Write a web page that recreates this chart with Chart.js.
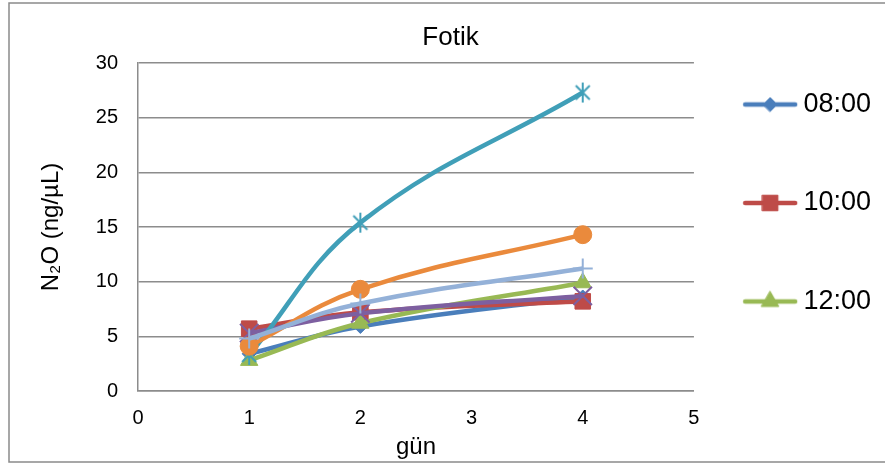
<!DOCTYPE html>
<html>
<head>
<meta charset="utf-8">
<script src="https://cdn.jsdelivr.net/npm/chart.js@4.4.1/dist/chart.umd.min.js"></script>
<style>
    body { margin: 0; background: #fff; }
</style>
</head>
<body>
<canvas id="myChart" width="885" height="465"></canvas>
<script>
const days = [1, 2, 4];
const seriesNames = ['08:00', '10:00', '12:00', '14:00', '16:00', '18:00', '20:00'];
const n2o0800 = [3.4, 5.9, 8.6];
const n2o1000 = [5.7, 7.2, 8.2];
const n2o1200 = [2.8, 6.2, 9.9];
const n2o1400 = [5.3, 7.1, 8.7];
const n2o1600 = [3.3, 15.4, 27.3];
const n2o1800 = [4.1, 9.3, 14.3];
const n2o2000 = [4.8, 8.0, 11.2];
const xTicks = [0, 1, 2, 3, 4, 5];
const yTicks = [0, 5, 10, 15, 20, 25, 30];

const seriesValues = [n2o0800, n2o1000, n2o1200, n2o1400, n2o1600, n2o1800, n2o2000];

// looks
const colors = ['#4a7ebb', '#be4b48', '#98b954', '#7d5fa0', '#409fb8', '#ea8a3c', '#94b1d8'];
const markers = ['rectRot', 'rect', 'triangle', 'crossRot', 'asterisk', 'circle', 'cross'];
const markerSizes = [7, 11, 10, 13, 10, 9, 10];
const gridColor = '#8c8c8c';
const fontFamily = 'Arial, "Liberation Sans", sans-serif';

Chart.defaults.font.family = fontFamily;
Chart.defaults.color = '#000';

// excel style star: an X with a vertical bar
function asteriskMarker(color) {
    const c = document.createElement('canvas');
    c.width = 22;
    c.height = 22;
    const ctx = c.getContext('2d');
    ctx.strokeStyle = color;
    ctx.lineWidth = 2;
    ctx.beginPath();
    ctx.moveTo(4, 4); ctx.lineTo(18, 18);
    ctx.moveTo(18, 4); ctx.lineTo(4, 18);
    ctx.moveTo(11, 1); ctx.lineTo(11, 21);
    ctx.stroke();
    return c;
}

function pointStyleFor(i) {
    return markers[i] === 'asterisk' ? asteriskMarker(colors[i]) : markers[i];
}

function legendSymbol(i) {
    const c = document.createElement('canvas');
    c.width = 71;
    c.height = 24;
    const ctx = c.getContext('2d');
    ctx.strokeStyle = colors[i];
    ctx.lineWidth = 4.5;
    ctx.lineCap = 'round';
    ctx.beginPath();
    ctx.moveTo(3, 12);
    ctx.lineTo(53, 12);
    ctx.stroke();
    ctx.fillStyle = colors[i];
    ctx.lineWidth = 1;
    Chart.helpers.drawPoint(ctx, {pointStyle: markers[i], radius: markerSizes[i], borderWidth: 1, rotation: 0}, 28, 12);
    return c;
}

const datasets = seriesValues.map(function (vals, i) {
    const crossLike = markers[i].indexOf('cross') === 0;
    return {
        label: seriesNames[i],
        data: days.map(function (d, k) { return {x: d, y: vals[k]}; }),
        borderColor: colors[i],
        backgroundColor: colors[i],
        borderWidth: 4.5,
        pointStyle: pointStyleFor(i),
        pointRadius: markerSizes[i],
        pointBackgroundColor: colors[i],
        pointBorderColor: colors[i],
        pointBorderWidth: crossLike ? 2 : 1,
        tension: 0.4,
        order: seriesValues.length - i
    };
});

const frame = {
    id: 'frame',
    beforeDraw(chart) {
        const ctx = chart.ctx;
        ctx.save();
        ctx.fillStyle = '#fff';
        ctx.fillRect(0, 0, chart.width, chart.height);
        ctx.strokeStyle = '#8a8a8a';
        ctx.lineWidth = 1.5;
        ctx.strokeRect(9, 3, 900, 459);
        ctx.restore();
    }
};

new Chart(document.getElementById('myChart'), {
    type: 'line',
    data: {datasets: datasets},
    plugins: [frame],
    options: {
        responsive: false,
        animation: false,
        layout: {padding: {left: 20, top: 19.5, right: 4, bottom: 0}},
        plugins: {
            tooltip: {enabled: false},
            title: {
                display: true,
                text: 'Fotik',
                color: '#000',
                font: {size: 26, weight: 'normal'},
                padding: {top: 3, bottom: 9.3}
            },
            legend: {
                position: 'right',
                align: 'start',
                maxWidth: 191,
                labels: {
                    usePointStyle: true,
                    pointStyleWidth: 24.5,
                    padding: 71.5,
                    color: '#000',
                    font: {size: 27},
                    generateLabels: function (chart) {
                        return chart.data.datasets.slice(0, 3).map(function (ds, i) {
                            return {
                                text: ds.label,
                                pointStyle: legendSymbol(i),
                                datasetIndex: i,
                                hidden: false,
                                fillStyle: colors[i],
                                strokeStyle: colors[i],
                                lineWidth: 0
                            };
                        });
                    }
                }
            }
        },
        scales: {
            x: {
                type: 'linear',
                min: xTicks[0],
                max: xTicks[xTicks.length - 1],
                ticks: {stepSize: xTicks[1] - xTicks[0], padding: 15, font: {size: 20}, color: '#000'},
                grid: {drawOnChartArea: false, drawTicks: false},
                border: {display: true, color: gridColor, width: 1.5},
                title: {display: true, text: 'gün', font: {size: 24}, color: '#000', padding: {top: 0, bottom: 3.6}},
                afterFit: function (scale) { scale.height = 74; }
            },
            y: {
                min: yTicks[0],
                max: yTicks[yTicks.length - 1],
                ticks: {stepSize: yTicks[1] - yTicks[0], padding: 20, font: {size: 20}, color: '#000'},
                grid: {color: gridColor, lineWidth: 1.5, drawTicks: false},
                border: {display: true, color: gridColor, width: 1.5},
                title: {display: true, text: 'N₂O (ng/µL)', font: {size: 24}, color: '#000', padding: {top: 16.6, bottom: 0}},
                afterFit: function (scale) { scale.width = 118; }
            }
        }
    }
});
</script>
</body>
</html>
